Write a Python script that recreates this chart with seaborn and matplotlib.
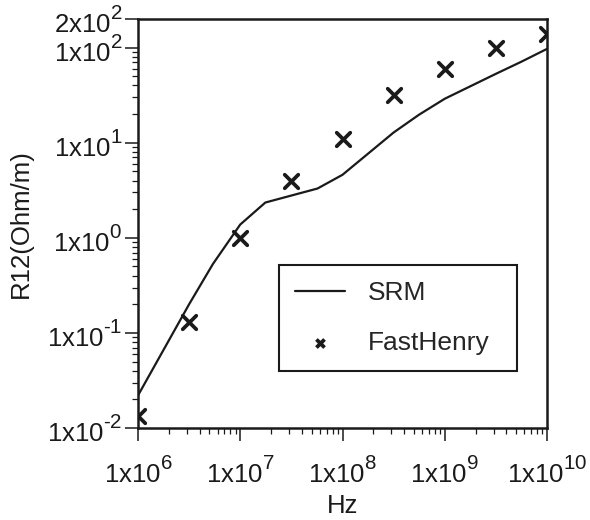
import numpy as np
import pandas as pd
import matplotlib
matplotlib.use("Agg")
import matplotlib.pyplot as plt
import seaborn as sns
from matplotlib.ticker import FixedLocator, FixedFormatter, LogLocator, NullFormatter

try:
    import matplotlib._mathtext as _mt
    _mt.SHRINK_FACTOR = 0.8
    _mt.FontConstantsBase.sup1 = 0.9
except Exception:
    pass

# --- data ---
srm_hz = [1e6, 3.16e6, 5.4e6, 1e7, 1.76e7, 5.7e7, 1e8, 3.16e8, 5.6e8, 1e9, 3.16e9, 5.6e9, 1e10]
srm_r12 = [0.022, 0.2, 0.53, 1.38, 2.35, 3.3, 4.6, 12.8, 19.7, 29, 53, 71, 97]
fh_hz = [1e6, 3.16e6, 1e7, 3.16e7, 1e8, 3.16e8, 1e9, 3.16e9, 1e10]
fh_r12 = [0.0134, 0.13, 1.0, 4.0, 11.0, 32, 60, 100, 140]
xtick_vals = [1e6, 1e7, 1e8, 1e9, 1e10]
xtick_labels = [r"$\mathregular{1x10^{6}}$", r"$\mathregular{1x10^{7}}$", r"$\mathregular{1x10^{8}}$",
                r"$\mathregular{1x10^{9}}$", r"$\mathregular{1x10^{10}}$"]
ytick_vals = [1e-2, 1e-1, 1e0, 1e1, 1e2, 2e2]
ytick_labels = [r"$\mathregular{1x10^{\text{-}2}}$", r"$\mathregular{1x10^{\text{-}1}}$", r"$\mathregular{1x10^{0}}$",
                r"$\mathregular{1x10^{1}}$", r"$\mathregular{1x10^{2}}$", r"$\mathregular{2x10^{2}}$"]

srm = pd.DataFrame({"Hz": srm_hz, "R12": srm_r12})
fh = pd.DataFrame({"Hz": fh_hz, "R12": fh_r12})

sns.set_style("ticks")
plt.rcParams["font.family"] = ["Liberation Sans", "DejaVu Sans"]
plt.rcParams["mathtext.fontset"] = "custom"
plt.rcParams["mathtext.rm"] = "Liberation Sans"
plt.rcParams["mathtext.it"] = "Liberation Sans:italic"
plt.rcParams["mathtext.bf"] = "Liberation Sans:bold"

FS = 18.5
INK = "#1a1a1a"

fig = plt.figure(figsize=(5.9, 5.2), dpi=100)
ax = fig.add_axes([138/590, 1-428/520, 409/590, 409/520])

sns.lineplot(data=srm, x="Hz", y="R12", ax=ax, color=INK, linewidth=1.6, label="SRM")
sns.scatterplot(data=fh, x="Hz", y="R12", ax=ax, marker="x", s=95, color=INK,
                linewidth=2.7, label="FastHenry", zorder=3)
for coll in ax.collections:
    try:
        coll.set_capstyle("round")
    except Exception:
        pass

ax.set_xscale("log")
ax.set_yscale("log")
ax.set_xlim(1e6, 1e10)
ax.set_ylim(1e-2, 2e2)

ax.xaxis.set_major_locator(FixedLocator(xtick_vals))
ax.xaxis.set_major_formatter(FixedFormatter(xtick_labels))
ax.yaxis.set_major_locator(FixedLocator(ytick_vals))
ax.yaxis.set_major_formatter(FixedFormatter(ytick_labels))
ax.xaxis.set_minor_locator(LogLocator(base=10, subs=np.arange(2, 10), numticks=20))
ax.yaxis.set_minor_locator(LogLocator(base=10, subs=np.arange(2, 10), numticks=20))
ax.xaxis.set_minor_formatter(NullFormatter())
ax.yaxis.set_minor_formatter(NullFormatter())

ax.tick_params(axis="both", which="major", direction="out", length=9.5, width=1.1,
               labelsize=FS, colors=INK)
ax.tick_params(axis="both", which="minor", direction="out", length=4.3, width=0.9, colors=INK)
ax.tick_params(axis="x", which="major", pad=11)
ax.tick_params(axis="y", which="major", pad=2)

for sp in ax.spines.values():
    sp.set_visible(True)
    sp.set_linewidth(1.8)
    sp.set_color(INK)

ax.set_xlabel("Hz", fontsize=FS, color=INK, labelpad=5)
ax.set_ylabel("R12(Ohm/m)", fontsize=FS, color=INK, labelpad=10)

x0, x1 = (279-138)/409, (517-138)/409
y0, y1 = (428-369)/409, (428-265)/409
leg = ax.legend(loc="upper left", bbox_to_anchor=(x0, y0, x1-x0, y1-y0), mode="expand",
                fontsize=19, frameon=True, fancybox=False, edgecolor=INK, framealpha=1,
                handlelength=1.9, handletextpad=0.85, borderpad=0.6, labelspacing=1.0,
                borderaxespad=0, markerscale=0.6)
leg.get_frame().set_linewidth(1.5)

fig.savefig("out.png", dpi=100)
